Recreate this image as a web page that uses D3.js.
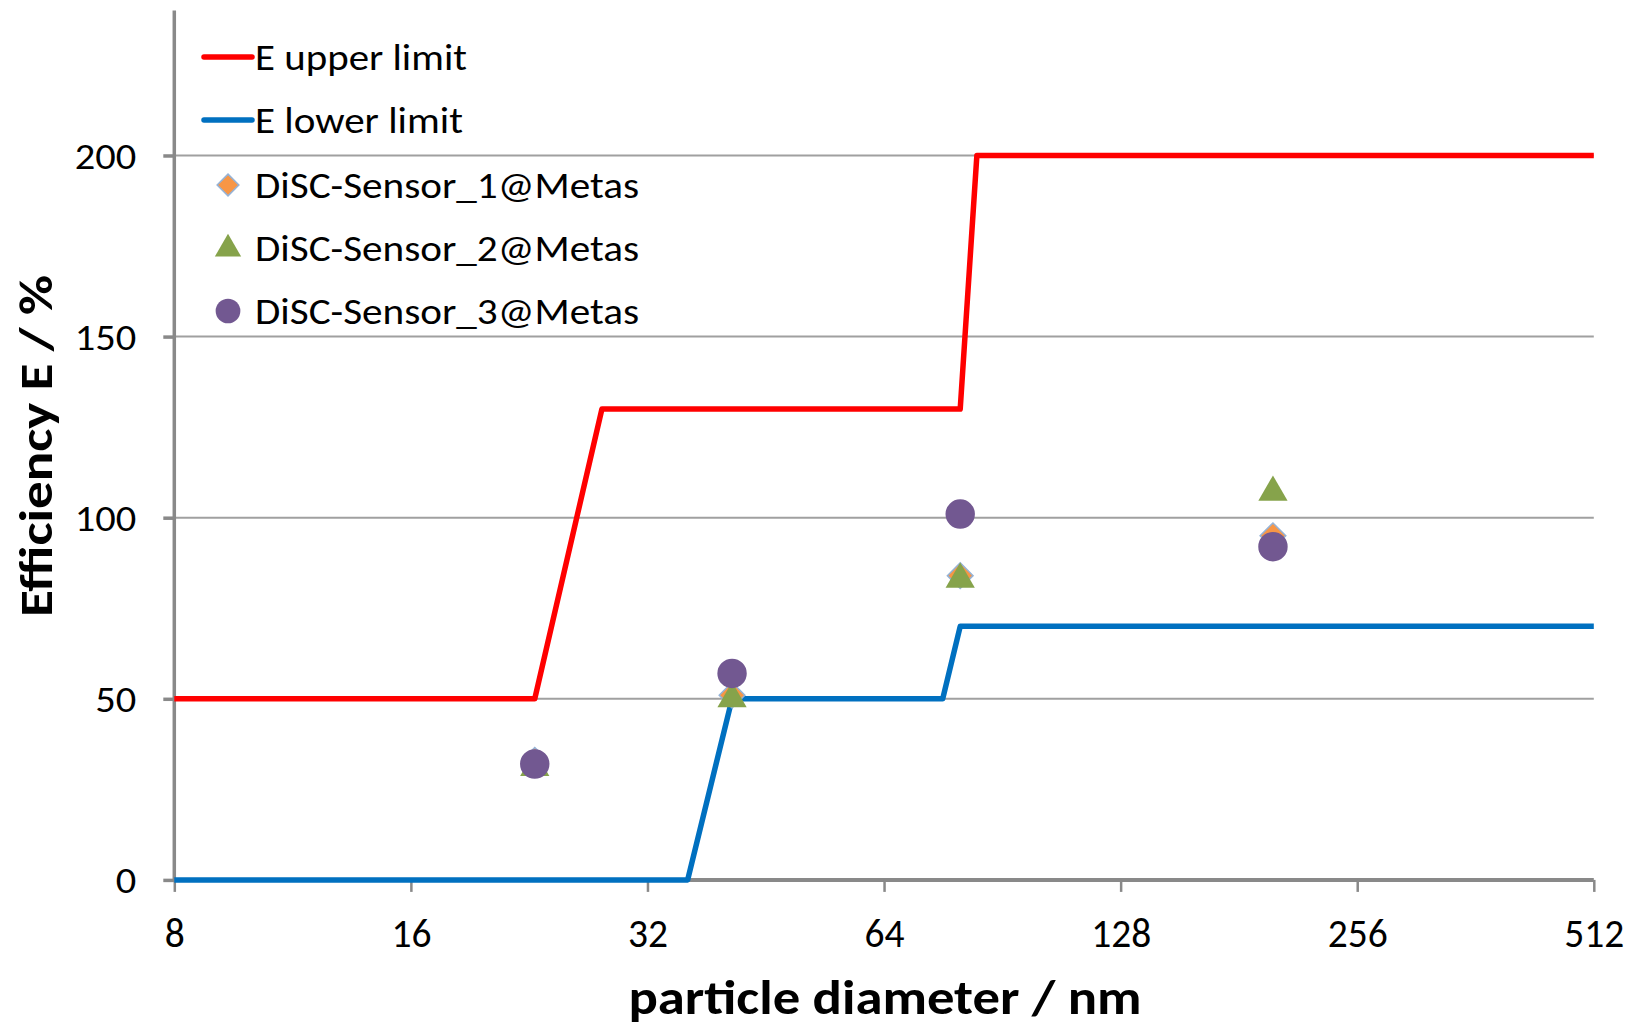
<!DOCTYPE html>
<html><head><meta charset="utf-8">
<script src="https://cdn.jsdelivr.net/npm/d3@7/dist/d3.min.js"></script>
<style>body{margin:0;background:#fff}svg{display:block}text{font-family:Carlito,Calibri,Lato,sans-serif}</style>
</head><body><svg id="c" width="1627" height="1023"></svg>
<script>
const xTicks=[8,16,32,64,128,256,512];
const yTicks=[0,50,100,150,200];
const upperX=[8,23,28,80,84,512];
const upperY=[50,50,130,130,200,200];
const lowerX=[8,36,41,76,80,512];
const lowerY=[0,0,50,50,70,70];
const sensorX=[23,41,80,200];
const sensor1=[33,51,84,95];
const sensor2=[31,50,83,107];
const sensor3=[32,57,101,92];
const seriesNames=["E upper limit","E lower limit","DiSC-Sensor_1@Metas","DiSC-Sensor_2@Metas","DiSC-Sensor_3@Metas"];

const svg=d3.select("#c");
const x=d3.scaleLog().base(2).domain([8,512]).range([174.3,1593.8]);
const y=d3.scaleLinear().domain([0,240]).range([879.9,10.6]);
const gray="#898989";

// gridlines
svg.append("g").selectAll("line").data(yTicks.filter(d=>d>0)).join("line")
 .attr("x1",x(8)).attr("x2",x(512)).attr("y1",d=>y(d)).attr("y2",d=>y(d))
 .attr("stroke","#a0a0a0").attr("stroke-width",2);

// y axis
const ya=svg.append("g").attr("transform",`translate(${x(8)},0)`)
 .call(d3.axisLeft(y).tickValues(yTicks).tickSize(11).tickPadding(27).tickFormat(d3.format("d")));
ya.select(".domain").attr("stroke",gray).attr("stroke-width",3.5).attr("d",`M0,${y(240)}V${y(0)}`);
ya.selectAll(".tick line").attr("stroke",gray).attr("stroke-width",3.5);
ya.selectAll(".tick text").attr("font-size",37).attr("fill","#000").attr("dy","0.34em")
 .attr("textLength",d=>String(d).length*20.5).attr("lengthAdjust","spacingAndGlyphs");

// x axis
const xa=svg.append("g").attr("transform",`translate(0,${y(0)})`)
 .call(d3.axisBottom(x).tickValues(xTicks).tickSize(12).tickPadding(26).tickFormat(d3.format("d")));
xa.select(".domain").attr("stroke",gray).attr("stroke-width",4).attr("d",`M${x(8)},0H${x(512)}`);
xa.selectAll(".tick line").attr("stroke",gray).attr("stroke-width",2.5);
xa.selectAll(".tick text").attr("font-size",41).attr("fill","#000")
 .attr("textLength",d=>String(d).length*20).attr("lengthAdjust","spacingAndGlyphs");

// lines
const line=d3.line().x(d=>x(d[0])).y(d=>y(d[1]));
svg.append("path").attr("d",line(lowerX.map((v,i)=>[v,lowerY[i]]))).attr("fill","none")
 .attr("stroke","#0070C0").attr("stroke-width",5.5).attr("stroke-linejoin","round");
svg.append("path").attr("d",line(upperX.map((v,i)=>[v,upperY[i]]))).attr("fill","none")
 .attr("stroke","#FF0000").attr("stroke-width",5.5).attr("stroke-linejoin","round");

// markers
const diamond=d3.symbol().type(d3.symbolDiamond2).size(420);
const tri=d3.symbol().type(d3.symbolTriangle).size(370);
const circ=d3.symbol().type(d3.symbolCircle).size(680);
function drawMarkers(vals,sym,fill,stroke){
  svg.append("g").selectAll("path").data(sensorX.map((v,i)=>[v,vals[i]])).join("path")
   .attr("d",sym).attr("transform",d=>`translate(${x(d[0])},${y(d[1])})`)
   .attr("fill",fill).attr("stroke",stroke).attr("stroke-width",stroke==="none"?0:1.5);
}
drawMarkers(sensor1,diamond,"#F79646","#95B3D7");
drawMarkers(sensor2,tri,"#86A34B","none");
drawMarkers(sensor3,circ,"#725891","none");

// legend
const lg=svg.append("g");
const rowY=[57,120,185,248,311];
const legendW=[212,208,384,384,384];
lg.append("line").attr("x1",204).attr("x2",252).attr("y1",rowY[0]).attr("y2",rowY[0]).attr("stroke","#FF0000").attr("stroke-width",5.5).attr("stroke-linecap","round");
lg.append("line").attr("x1",204).attr("x2",252).attr("y1",rowY[1]).attr("y2",rowY[1]).attr("stroke","#0070C0").attr("stroke-width",5.5).attr("stroke-linecap","round");
lg.append("path").attr("d",d3.symbol().type(d3.symbolDiamond2).size(300)).attr("transform",`translate(228,${rowY[2]})`).attr("fill","#F79646").attr("stroke","#95B3D7").attr("stroke-width",1.5);
lg.append("path").attr("d",d3.symbol().type(d3.symbolTriangle).size(300)).attr("transform",`translate(228,${rowY[3]+1})`).attr("fill","#86A34B");
lg.append("path").attr("d",d3.symbol().type(d3.symbolCircle).size(480)).attr("transform",`translate(228,${rowY[4]})`).attr("fill","#725891");
lg.selectAll("text").data(seriesNames).join("text")
 .attr("x",255).attr("y",(d,i)=>rowY[i]).attr("dy","0.36em").attr("font-size",37).attr("fill","#000")
 .attr("textLength",(d,i)=>legendW[i]).attr("lengthAdjust","spacingAndGlyphs").text(d=>d);

// axis titles
svg.append("text").attr("x",885).attr("y",1014).attr("text-anchor","middle").attr("font-size",48).attr("font-weight","bold")
 .attr("textLength",513).attr("lengthAdjust","spacingAndGlyphs").text("particle diameter / nm");
svg.append("text").attr("transform","translate(52,446) rotate(-90)").attr("text-anchor","middle").attr("font-size",47).attr("font-weight","bold")
 .attr("textLength",342).attr("lengthAdjust","spacingAndGlyphs").text("Efficiency E / %");
</script></body></html>
